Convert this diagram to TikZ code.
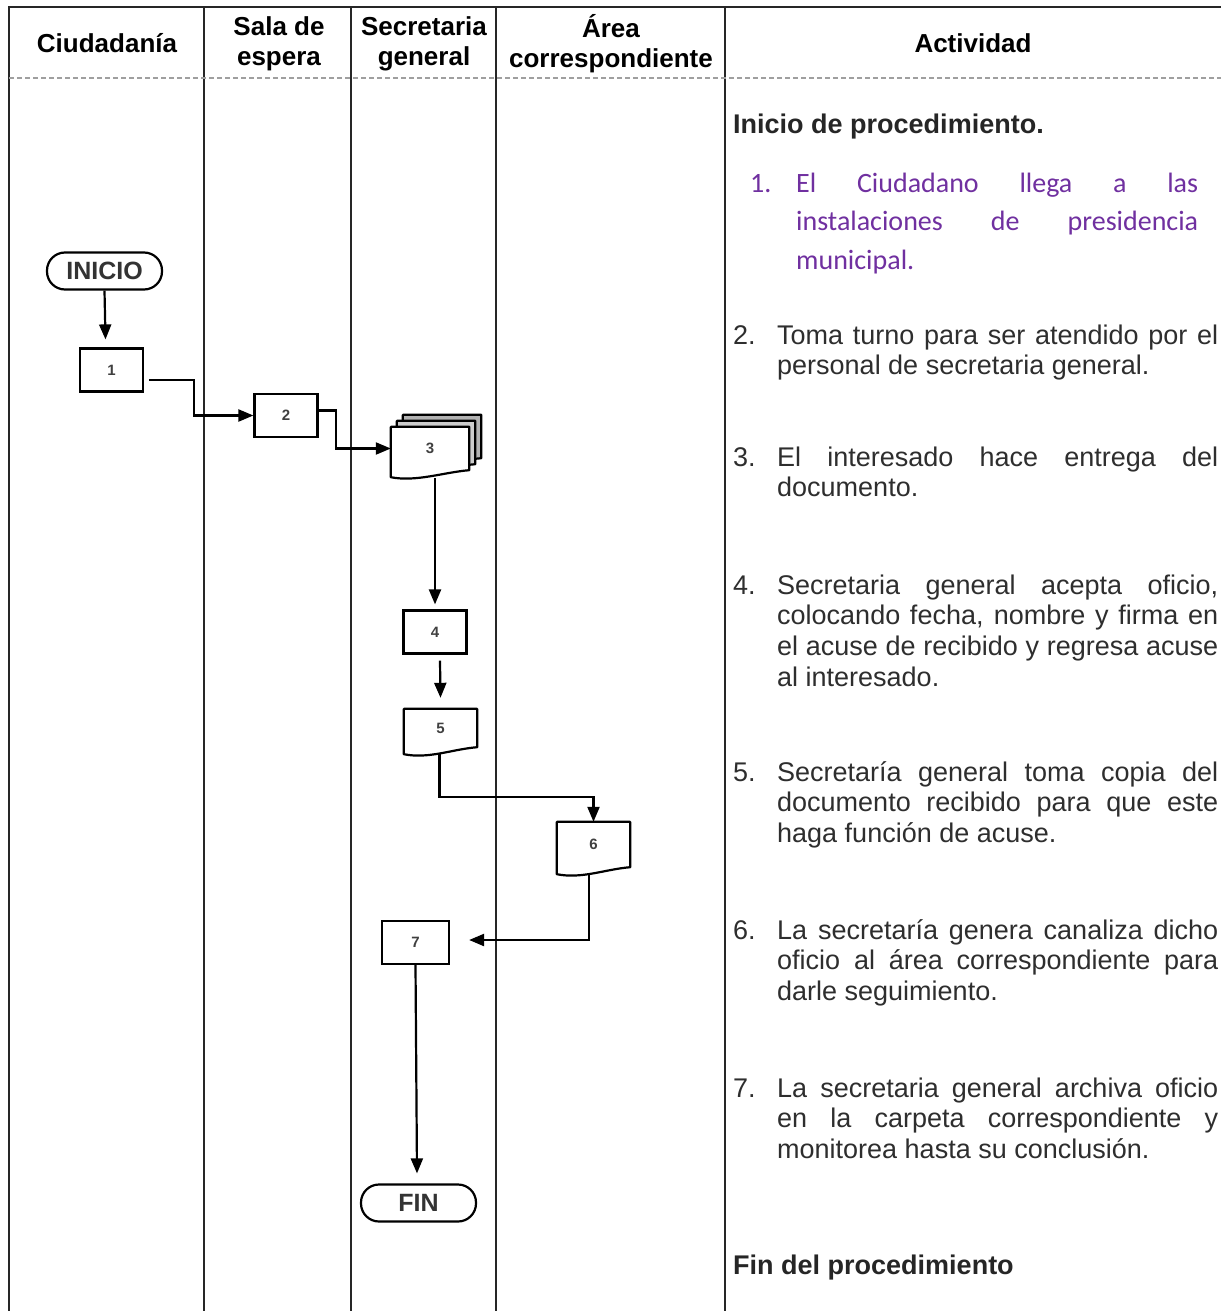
\documentclass[tikz,border=0pt]{standalone}
\usepackage{fontspec}
\setmainfont{Liberation Sans}
\newfontfamily\calib{Carlito}
\usetikzlibrary{arrows.meta,calc}
\definecolor{purp}{HTML}{7030A0}
\definecolor{txt}{HTML}{2E2E2E}
\newcommand\docpath[1]{(#1.north west) -- (#1.north east) -- (#1.south east)
  .. controls ($(#1.south east)+(-25,2)$) and ($(#1.south west)+(25,12)$) .. ($(#1.south west)+(0,7)$) -- cycle}
\begin{document}
\begin{tikzpicture}[x=1pt,y=-1pt,
  lane/.style={line width=2.8pt, draw=black!85},
  hdr/.style={font=\fontsize{26}{30}\selectfont\bfseries, align=center, inner sep=0pt},
  box/.style={draw, line width=2.2pt, minimum width=63pt, minimum height=43pt, inner sep=0pt,
    font=\fontsize{15}{15}\selectfont\bfseries, text=black!75},
  term/.style={draw, line width=2.2pt, rounded corners=18pt, minimum width=115pt, minimum height=37pt,
    inner sep=0pt, font=\fontsize{25}{25}\selectfont\bfseries, text=black!80},
  doc/.style={minimum width=73pt, inner sep=0pt, font=\fontsize{15}{15}\selectfont\bfseries, text=black!75},
  docline/.style={line width=2.2pt, line join=round},
  flow/.style={line width=2.2pt, -{Triangle[length=15pt,width=12pt]}},
  item/.style={inner sep=0pt, anchor=base west, text=txt, font=\fontsize{27}{30.8}\selectfont},
  ttl/.style={inner sep=0pt, anchor=base west, text=black!85, font=\fontsize{27}{30}\selectfont\bfseries}
]
\useasboundingbox (0,0) rectangle (1221,1311);
\fill[white] (0,0) rectangle (1221,1311);

% table frame
\draw[lane] (8,7) -- (1221,7);
\foreach \x in {9,204,351,496,725} \draw[lane] (\x,7) -- (\x,1311);
\draw[gray!75, line width=1.5pt, dash pattern=on 5pt off 3pt] (9,78) -- (1221,78);

% headers
\node[hdr, anchor=base] (h1) at (107,53) {Ciudadanía};
\node[hdr] (h2) at (279,44) {Sala de\\espera};
\node[hdr] (h3) at (424,44) {Secretaria\\general};
\node[hdr] (h4) at (611,44) {Área\\correspondiente};
\node[hdr, anchor=base] (h5) at (973,53) {Actividad};

% flowchart nodes
\node[term] (inicio) at (104.5,271) {INICIO};
\node[box] (b1) at (111.5,370) {1};
\node[box] (b2) at (286,415.5) {2};

\node[doc, minimum width=78pt, minimum height=43pt] (b3c) at (442,436.5) {};
\node[doc, minimum width=78pt, minimum height=43pt] (b3b) at (436,442.5) {};
\node[doc, minimum width=78pt, minimum height=43pt] (b3) at (430,448.5) {};
\draw[docline, fill=gray!60] \docpath{b3c};
\draw[docline, fill=gray!40] \docpath{b3b};
\draw[docline, fill=white] \docpath{b3};
\node[font=\fontsize{15}{15}\selectfont\bfseries, text=black!75] (l3) at (b3.center) {3};

\node[box] (b4) at (435,632) {4};

\node[doc, minimum height=38pt] (b5) at (440.5,728) {5};
\draw[docline] \docpath{b5};

\node[doc, minimum height=45pt] (b6) at (593.5,844.5) {6};
\draw[docline] \docpath{b6};

\node[box, minimum width=67pt] (b7) at (415.5,942.5) {7};
\node[term] (fin) at (418.5,1203) {FIN};

% connectors
\draw[flow] (inicio.south) -- ($(b1.north)+(-6,-8)$);
\draw[flow] ($(b1.east)+(5,10)$) -- ++(45,0) |- (b2.west);
\draw[flow] ($(b2.east)+(0,-5)$) -- ++(17,0) |- (b3.west);
\draw[flow] ($(b3.south)+(5,8)$) -- ($(b4.north)+(0,-5)$);
\draw[flow] ($(b4.south)+(5,6)$) -- ($(b5.north)+(0,-11)$);
\draw[flow] ($(b5.south)+(-1,7)$) -- ++(0,43) -| (b6.north);
\draw[flow] ($(b6.south)+(-4.5,7)$) |- ($(b7.east)+(19,-2.5)$);
\draw[flow] (b7.south) -- ($(fin.north)+(-1.5,-10)$);

% activity column
\node[ttl] (t0) at (733,134) {Inicio de procedimiento.};
\node[inner sep=0pt, anchor=base west, text=purp, font=\calib\fontsize{28}{38.5}\selectfont] (t1) at (750,192)
  {\parbox[t]{460pt}{\makebox[46pt][l]{1.}\makebox[402pt][s]{El Ciudadano llega a las}\\
   \hspace*{46pt}\makebox[402pt][s]{instalaciones de presidencia}\\
   \hspace*{46pt}municipal.}};
\node[item] (t2) at (733,344)
  {\parbox[t]{488pt}{\makebox[44pt][l]{2.}\makebox[441pt][s]{Toma turno para ser atendido por el}\\
   \hspace*{44pt}personal de secretaria general.}};
\node[item] (t3) at (733,466)
  {\parbox[t]{488pt}{\makebox[44pt][l]{3.}\makebox[441pt][s]{El interesado hace entrega del}\\
   \hspace*{44pt}documento.}};
\node[item] (t4) at (733,594)
  {\parbox[t]{488pt}{\makebox[44pt][l]{4.}\makebox[441pt][s]{Secretaria general acepta oficio,}\\
   \hspace*{44pt}\makebox[441pt][s]{colocando fecha, nombre y firma en}\\
   \hspace*{44pt}\makebox[441pt][s]{el acuse de recibido y regresa acuse}\\
   \hspace*{44pt}al interesado.}};
\node[item] (t5) at (733,781)
  {\parbox[t]{488pt}{\makebox[44pt][l]{5.}\makebox[441pt][s]{Secretaría general toma copia del}\\
   \hspace*{44pt}\makebox[441pt][s]{documento recibido para que este}\\
   \hspace*{44pt}haga función de acuse.}};
\node[item] (t6) at (733,939)
  {\parbox[t]{488pt}{\makebox[44pt][l]{6.}\makebox[441pt][s]{La secretaría genera canaliza dicho}\\
   \hspace*{44pt}\makebox[441pt][s]{oficio al área correspondiente para}\\
   \hspace*{44pt}darle seguimiento.}};
\node[item] (t7) at (733,1097)
  {\parbox[t]{488pt}{\makebox[44pt][l]{7.}\makebox[441pt][s]{La secretaria general archiva oficio}\\
   \hspace*{44pt}\makebox[441pt][s]{en la carpeta correspondiente y}\\
   \hspace*{44pt}monitorea hasta su conclusión.}};
\node[ttl] (t8) at (733,1274) {Fin del procedimiento};
\end{tikzpicture}
\end{document}
